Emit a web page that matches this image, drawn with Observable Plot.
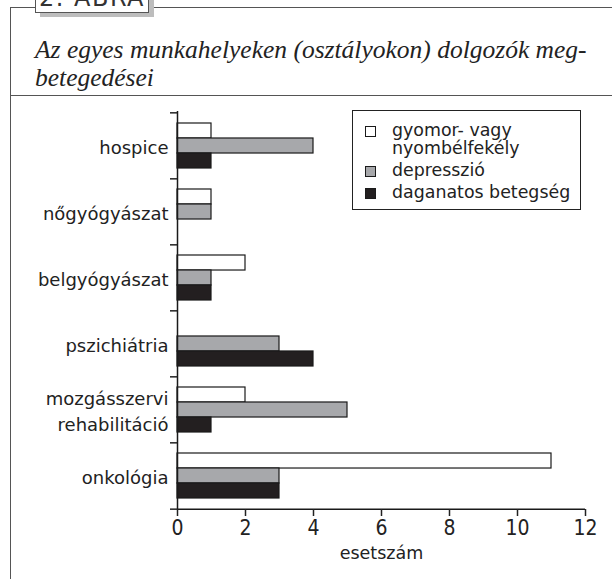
<!DOCTYPE html>
<html><head><meta charset="utf-8">
<script src="https://cdn.jsdelivr.net/npm/d3@7"></script>
<script src="https://cdn.jsdelivr.net/npm/@observablehq/plot@0.6"></script>
<style>
body{margin:0;background:#fff}
#wrap{position:relative;width:612px;height:579px;overflow:hidden;background:#fff;font-family:"DejaVu Sans",sans-serif;color:#222}
.hl{position:absolute;height:0;border-top:1.5px solid #555}
.vl{position:absolute;width:0;border-left:1.5px solid #555}
#tab{position:absolute;left:35px;top:-12px;width:114px;height:25px;background:#fff;border:1.5px solid #555;box-shadow:5px 4px 0 #bdbdbd;font-size:24px;line-height:18px;letter-spacing:1.5px;text-align:center;color:#333;box-sizing:border-box}
#title{position:absolute;left:35px;top:36px;font-family:"Liberation Serif",serif;font-style:italic;font-size:25.5px;line-height:28px;color:#222;white-space:nowrap}
#chart{position:absolute;left:0;top:96px}
#legend{position:absolute;left:352px;top:110px;width:229px;height:100px;border:1.5px solid #222;box-sizing:border-box;padding:10px 0 0 12px;background:#fff}
.item{display:flex;align-items:flex-start;font-size:17.4px;line-height:18px;margin-bottom:4px;white-space:pre-line;color:#222}
.sw{width:11px;height:11px;border:1.2px solid #1a1a1a;margin-top:5px;margin-right:16px;flex:none;box-sizing:border-box}
</style></head><body>
<div id="wrap">
 <div class="hl" style="left:10px;top:7px;width:602px"></div>
 <div class="vl" style="left:10px;top:7px;height:572px"></div>
 <div class="hl" style="left:10px;top:95px;width:602px"></div>
 <div id="tab">2. ÁBRA</div>
 <div id="title">Az egyes munkahelyeken (osztályokon) dolgozók meg-<br>betegedései</div>
 <div id="chart"></div>
 <div id="legend"></div>
</div>
<script>
const categories = ["hospice", "nőgyógyászat", "belgyógyászat", "pszichiátria", "mozgásszervi\nrehabilitáció", "onkológia"];
const series = ["gyomor- vagy\nnyombélfekély", "depresszió", "daganatos betegség"];
const ulcer = [1, 1, 2, 0, 2, 11];
const depression = [4, 1, 1, 3, 5, 3];
const cancer = [1, 0, 1, 4, 1, 3];
const colors = ["#ffffff", "#a7a8ab", "#231f20"];
const xTicks = [0, 2, 4, 6, 8, 10, 12];
const xLabel = "esetszám";

const valuesBySeries = [ulcer, depression, cancer];
const table = categories.flatMap((c, i) => valuesBySeries.map((arr, j) => ({category: c, s: j, series: series[j], value: arr[i]})));

const W = 612, H = 483, mt = 15, mb = 70, ml = 177, mr = 27;
const n = categories.length, pI = 0.322;
const step = (H - mt - mb) / n;
const bw = step * (1 - pI);
const sub = bw / 3;
const ink = "#1a1a1a";

const plot = Plot.plot({
  width: W, height: H,
  marginTop: mt, marginBottom: mb, marginLeft: ml, marginRight: mr,
  style: {fontFamily: "'DejaVu Sans', sans-serif", fontSize: "18px", color: "#222", background: "transparent", overflow: "visible"},
  x: {domain: [0, 12], ticks: xTicks, label: null},
  y: {domain: categories, paddingInner: pI, paddingOuter: pI / 2, label: null},
  marks: [
    ...[0, 1, 2].map(j => Plot.barX(table.filter(d => d.s === j && d.value > 0), {
      x: "value", y: "category", fill: colors[j], stroke: ink, strokeWidth: 1.2,
      insetTop: j * sub, insetBottom: (2 - j) * sub
    })),
    Plot.ruleX([0], {stroke: ink, strokeWidth: 1.5}),
    Plot.ruleY([categories[n - 1]], {dy: step / 2, stroke: ink, strokeWidth: 1.5}),
    Plot.axisY({ticks: categories, tickSize: 0, tickPadding: 9, fontSize: 18, lineHeight: 1.45, label: null}),
    Plot.axisY({ticks: categories, tickSize: 7, tickFormat: () => "", dy: -step / 2, strokeWidth: 1.5, label: null}),
    Plot.axisY({ticks: [categories[n - 1]], tickSize: 7, tickFormat: () => "", dy: step / 2, strokeWidth: 1.5, label: null}),
    Plot.axisX({ticks: xTicks, tickSize: 7, tickPadding: 4, strokeWidth: 1.5, fontFamily: "'Liberation Sans Narrow', 'DejaVu Sans Condensed', sans-serif", fontSize: 21, fontWeight: 300, label: null}),
    Plot.axisX({ticks: [], label: xLabel, labelAnchor: "center", labelArrow: "none", labelOffset: 49, fontSize: 17.5})
  ]
});
document.getElementById("chart").appendChild(plot);

const legend = document.getElementById("legend");
series.forEach((s, j) => {
  const it = document.createElement("div");
  it.className = "item";
  const sw = document.createElement("span");
  sw.className = "sw";
  sw.style.background = colors[j];
  const tx = document.createElement("span");
  tx.textContent = s;
  it.appendChild(sw); it.appendChild(tx);
  legend.appendChild(it);
});
</script>
</body></html>
